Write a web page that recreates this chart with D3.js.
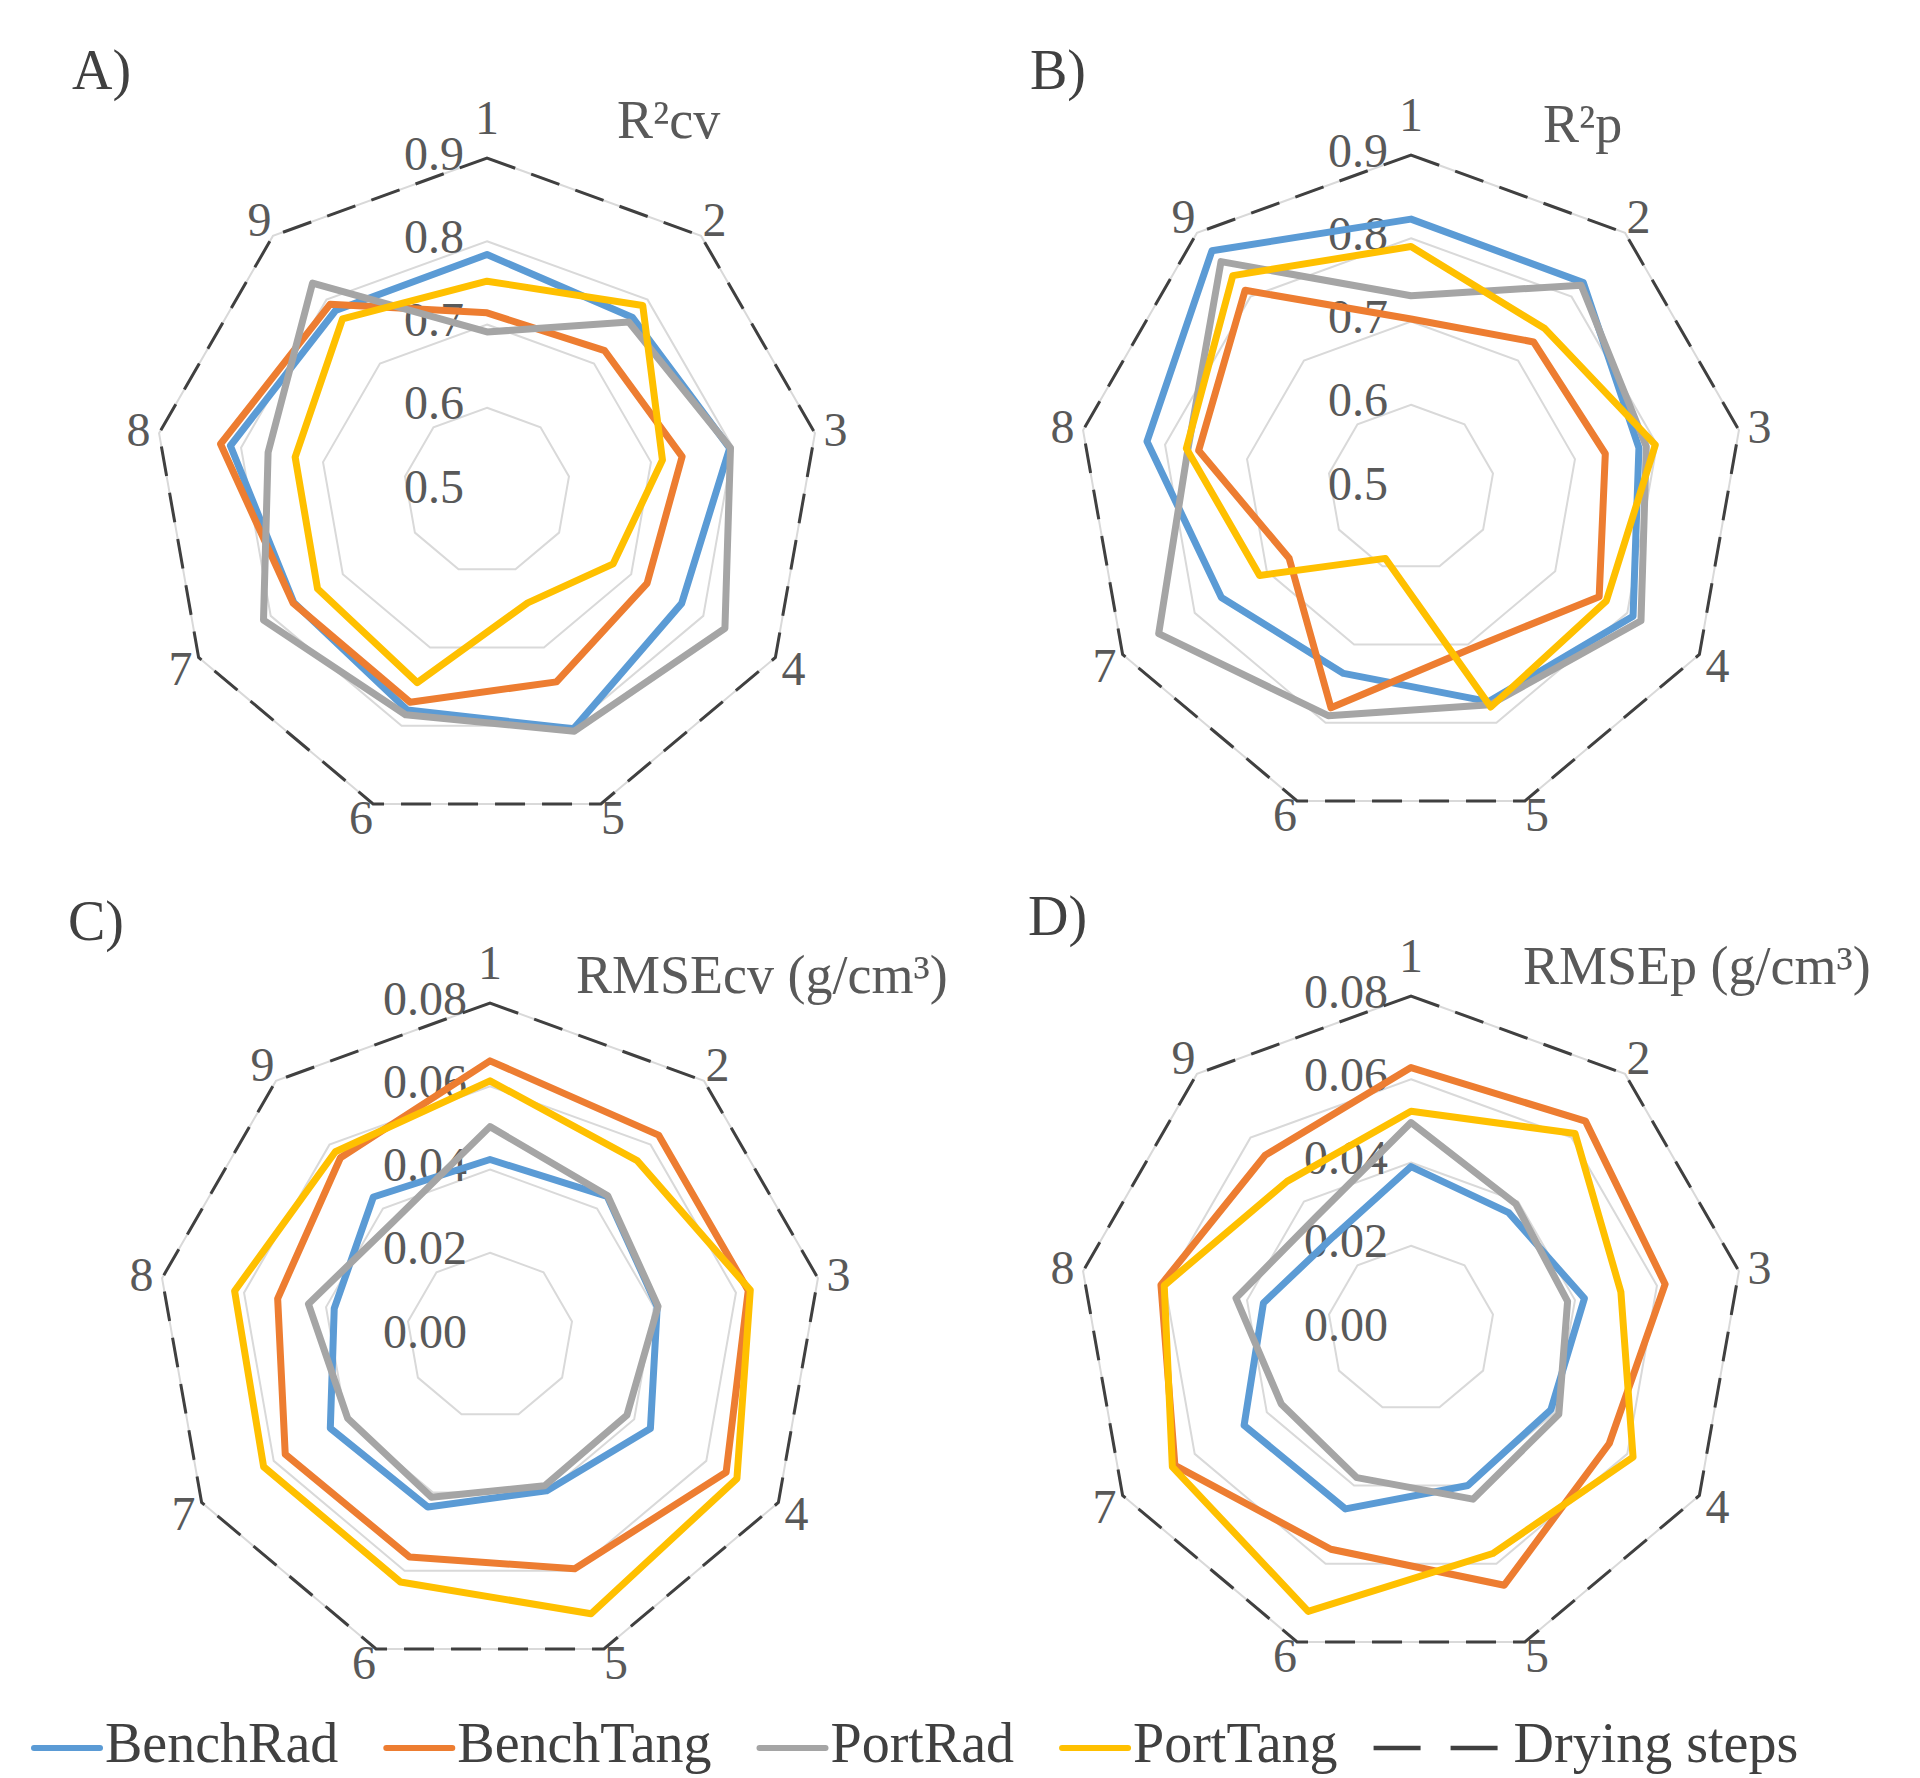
<!DOCTYPE html>
<html><head><meta charset="utf-8">
<script src="https://cdn.jsdelivr.net/npm/d3@7"></script>
<style>body{margin:0;background:#fff} svg{display:block}</style>
</head><body>
<svg id="chart" width="1920" height="1778"></svg>
<script>
// ---------- data ----------
const categories = ["1","2","3","4","5","6","7","8","9"];
const seriesNames = ["BenchRad","BenchTang","PortRad","PortTang"];
const dryingName = "Drying steps";
const seriesColors = ["#5B9BD5","#ED7D31","#A5A5A5","#FFC000"];

// A) R²cv
const r2cvBenchRad  = [0.784, 0.772, 0.796, 0.770, 0.804, 0.780, 0.768, 0.813, 0.783];
const r2cvBenchTang = [0.714, 0.720, 0.738, 0.722, 0.744, 0.770, 0.769, 0.825, 0.793];
const r2cvPortRad   = [0.691, 0.765, 0.797, 0.830, 0.807, 0.786, 0.810, 0.767, 0.826];
const r2cvPortTang  = [0.752, 0.791, 0.714, 0.675, 0.643, 0.745, 0.735, 0.734, 0.770];
// B) R²p
const r2pBenchRad  = [0.823, 0.822, 0.778, 0.808, 0.773, 0.737, 0.763, 0.822, 0.872];
const r2pBenchTang = [0.703, 0.729, 0.737, 0.761, 0.706, 0.781, 0.669, 0.759, 0.810];
const r2pPortRad   = [0.731, 0.818, 0.787, 0.819, 0.777, 0.791, 0.850, 0.772, 0.855];
const r2pPortTang  = [0.790, 0.750, 0.798, 0.771, 0.780, 0.590, 0.710, 0.774, 0.833];
// C) RMSEcv
const rmsecvBenchRad  = [0.0424, 0.0438, 0.0408, 0.0445, 0.0396, 0.0437, 0.0443, 0.0380, 0.0436];
const rmsecvBenchTang = [0.0661, 0.0630, 0.0630, 0.0655, 0.0595, 0.0565, 0.0568, 0.0518, 0.0559];
const rmsecvPortRad   = [0.0503, 0.0440, 0.0410, 0.0380, 0.0383, 0.0412, 0.0395, 0.0443, 0.0360];
const rmsecvPortTang  = [0.0613, 0.0550, 0.0635, 0.0685, 0.0710, 0.0629, 0.0628, 0.0623, 0.0578];
// D) RMSEp
const rmsepBenchRad  = [0.0390, 0.0365, 0.0423, 0.0388, 0.0400, 0.0460, 0.0463, 0.0360, 0.0290];
const rmsepBenchTang = [0.0628, 0.0652, 0.0620, 0.0550, 0.0655, 0.0563, 0.0655, 0.0610, 0.0545];
const rmsepPortRad   = [0.0496, 0.0392, 0.0382, 0.0410, 0.0435, 0.0380, 0.0360, 0.0427, 0.0353];
const rmsepPortTang  = [0.0523, 0.0613, 0.0512, 0.0616, 0.0574, 0.0722, 0.0662, 0.0602, 0.0463];

// "Drying steps" reference series
const dryingStepsR2   = [0.9, 0.9, 0.9, 0.9, 0.9, 0.9, 0.9, 0.9, 0.9];
const dryingStepsRmse = [0.08, 0.08, 0.08, 0.08, 0.08, 0.08, 0.08, 0.08, 0.08];

// axis ticks
const r2Ticks = [0.5, 0.6, 0.7, 0.8, 0.9];
const r2TickLabels = ["0.5", "0.6", "0.7", "0.8", "0.9"];
const rmseTicks = [0, 0.02, 0.04, 0.06, 0.08];
const rmseTickLabels = ["0.00", "0.02", "0.04", "0.06", "0.08"];

const panelLetters = ["A)", "B)", "C)", "D)"];
const panelTitles = ["R²cv", "R²p", "RMSEcv (g/cm³)", "RMSEp (g/cm³)"];

// ---------- layout ----------
const svg = d3.select("#chart");
const FONT = "'Liberation Serif','Times New Roman',serif";
const TEXT = "#595959";
const R = 333;

const panels = [
  {cx: 487, cy: 491, ticks: r2Ticks, labels: r2TickLabels, series: [r2cvBenchRad, r2cvBenchTang, r2cvPortRad, r2cvPortTang], drying: dryingStepsR2, lx: 72, ly: 89, tx: 617, ty: 138},
  {cx: 1411, cy: 488, ticks: r2Ticks, labels: r2TickLabels, series: [r2pBenchRad, r2pBenchTang, r2pPortRad, r2pPortTang], drying: dryingStepsR2, lx: 1030, ly: 89, tx: 1543, ty: 142},
  {cx: 490, cy: 1336, ticks: rmseTicks, labels: rmseTickLabels, series: [rmsecvBenchRad, rmsecvBenchTang, rmsecvPortRad, rmsecvPortTang], drying: dryingStepsRmse, lx: 68, ly: 940, tx: 576, ty: 993},
  {cx: 1411, cy: 1329, ticks: rmseTicks, labels: rmseTickLabels, series: [rmsepBenchRad, rmsepBenchTang, rmsepPortRad, rmsepPortTang], drying: dryingStepsRmse, lx: 1028, ly: 935, tx: 1523, ty: 984}
];

const n = categories.length;
const angleOf = i => i * 2 * Math.PI / n;

panels.forEach((p, pi) => {
  const r = d3.scaleLinear().domain([p.ticks[0], p.ticks[p.ticks.length - 1]]).range([0, R]);
  const line = d3.lineRadial()
    .angle((d, i) => angleOf(i))
    .radius(d => r(d))
    .curve(d3.curveLinearClosed);

  const g = svg.append("g").attr("transform", `translate(${p.cx},${p.cy})`);

  // gridlines
  g.selectAll("path.grid")
    .data(p.ticks.slice(1))
    .join("path")
    .attr("class", "grid")
    .attr("d", t => line(categories.map(() => t)))
    .attr("fill", "none")
    .attr("stroke", "#D9D9D9")
    .attr("stroke-width", 2);

  // tick labels
  g.selectAll("text.tick")
    .data(p.ticks)
    .join("text")
    .attr("class", "tick")
    .attr("x", -23)
    .attr("y", t => -r(t) - 5)
    .attr("text-anchor", "end")
    .attr("dominant-baseline", "central")
    .attr("font-family", FONT)
    .attr("font-size", 48)
    .attr("fill", TEXT)
    .text((t, i) => p.labels[i]);

  // data series
  p.series.forEach((vals, si) => {
    g.append("path")
      .attr("d", line(vals))
      .attr("fill", "none")
      .attr("stroke", seriesColors[si])
      .attr("stroke-width", 7)
      .attr("stroke-linejoin", "round");
  });

  // drying steps dashed
  g.append("path")
    .attr("d", line(p.drying))
    .attr("fill", "none")
    .attr("stroke", "#404040")
    .attr("stroke-width", 3)
    .attr("stroke-dasharray", "30,17");

  // category labels
  g.selectAll("text.cat")
    .data(categories)
    .join("text")
    .attr("class", "cat")
    .attr("x", (c, i) => (R + 21) * Math.sin(angleOf(i)) + (i === 4 ? 5 : i === 5 ? -5 : 0))
    .attr("y", (c, i) => -(R + 21) * Math.cos(angleOf(i)) - (i === 0 ? 20 : 0) - (i === 4 || i === 5 ? 6 : 0))
    .attr("text-anchor", "middle")
    .attr("dominant-baseline", "central")
    .attr("font-family", FONT)
    .attr("font-size", 48)
    .attr("fill", TEXT)
    .text(c => c);

  // panel letter and title
  svg.append("text")
    .attr("x", p.lx).attr("y", p.ly)
    .attr("font-family", FONT).attr("font-size", 56)
    .attr("fill", "#404040")
    .text(panelLetters[pi]);
  svg.append("text")
    .attr("x", p.tx).attr("y", p.ty)
    .attr("font-family", FONT).attr("font-size", 54)
    .attr("fill", TEXT)
    .text(panelTitles[pi]);
});

// ---------- legend ----------
const legendItems = seriesNames.map((name, i) => ({name, color: seriesColors[i], dashed: false}))
  .concat([{name: dryingName, color: "#404040", dashed: true}]);
const lg = svg.append("g");
let x = 34;
const lineY = 1748, textY = 1762;
legendItems.forEach(item => {
  const len = item.dashed ? 127 : 66;
  lg.append("line")
    .attr("x1", x).attr("x2", x + len)
    .attr("y1", lineY).attr("y2", lineY)
    .attr("stroke", item.color)
    .attr("stroke-width", item.dashed ? 4.5 : 6)
    .attr("stroke-linecap", item.dashed ? "butt" : "round")
    .attr("stroke-dasharray", item.dashed ? "47,30" : null);
  const t = lg.append("text")
    .attr("x", x + len + (item.dashed ? 13 : 5))
    .attr("y", textY)
    .attr("font-family", FONT)
    .attr("font-size", 56)
    .attr("fill", "#404040")
    .text(item.name);
  x = x + len + (item.dashed ? 13 : 5) + t.node().getComputedTextLength() + (item.name === "PortTang" ? 36 : 48);
});
</script>
</body></html>
